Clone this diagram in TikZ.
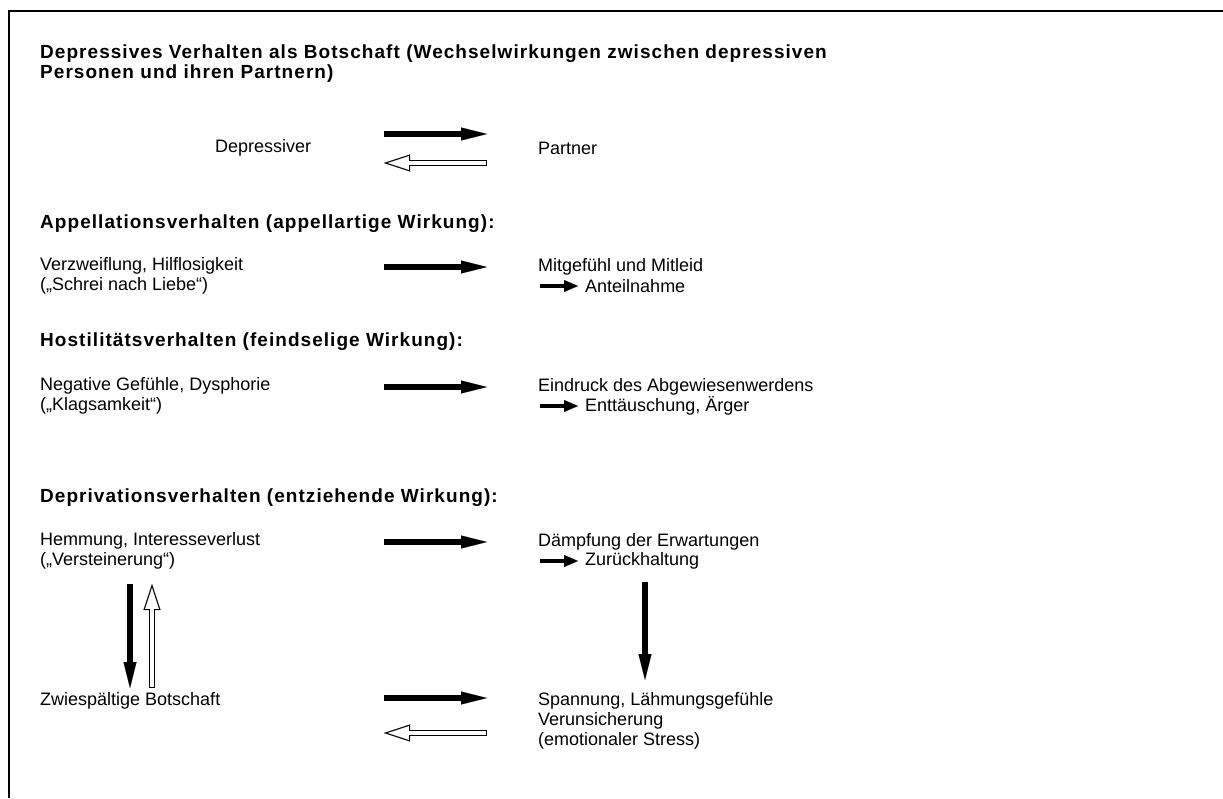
\documentclass[tikz,border=0pt]{standalone}
\usepackage{fontspec}
\setmainfont{Liberation Sans}
\newfontfamily\hdfont[LetterSpace=5.5]{Liberation Sans}
\usetikzlibrary{arrows.meta}
\tikzset{
  txt/.style={anchor=west,inner sep=0pt,align=left,font=\fontsize{18}{20}\selectfont},
  hd/.style={txt,font=\hdfont\fontsize{19}{20}\selectfont\bfseries},
  fat/.style={line width=5.5pt,-{Triangle[length=26pt,width=13pt,line width=0.1pt]}},
  hol/.style={line width=6.5pt,-{Triangle[length=26pt,width=17pt,line width=0.1pt]},
    postaction={draw=white,line width=4.1pt,shorten <=1.2pt,shorten >=3.9pt,-{Triangle[length=20.9pt,width=13.6pt,line width=0.1pt]}}},
  thin/.style={line width=4.5pt,shorten >=7pt,-{Triangle[length=14pt,width=12pt,line width=0.1pt]}},
}

\begin{document}
\begin{tikzpicture}[x=1pt,y=-1pt]
\useasboundingbox (0,0) rectangle (1223,798);
% frame (top and left only)
\draw[line width=2pt] (9,798) -- (9,11) -- (1223,11);

\node[hd] (title) at (40,63.5) {Depressives Verhalten als Botschaft (Wechselwirkungen zwischen depressiven\\Personen und ihren Partnern)};

% Depressiver <-> Partner
\node[txt] (dep) at (215,148) {Depressiver};
\node[txt] (par) at (538,148) {Partner};
\coordinate (a1) at (384,134); \coordinate (b1) at (487,134);
\coordinate (a2) at (384,163); \coordinate (b2) at (487,163);
\draw[fat] (a1) -- (b1);
\draw[hol] (b2) -- (a2);

% Appellation
\node[hd] (appH) at (40,224) {Appellationsverhalten (appellartige Wirkung):};
\node[txt] (verz) at (40,276) {Verzweiflung, Hilflosigkeit\\(„Schrei nach Liebe“)};
\node[txt] (mitg) at (538,267) {Mitgefühl und Mitleid};
\node[txt] (anteil) at (585,286) {Anteilnahme};
\coordinate (a3) at (384,267); \coordinate (b3) at (487,267);
\coordinate (c3) at (540,286);
\draw[fat] (a3) -- (b3);
\draw[thin] (c3) -- (anteil.west);

% Hostilitaet
\node[hd] (hosH) at (40,342) {Hostilitätsverhalten (feindselige Wirkung):};
\node[txt] (neg) at (40,396) {Negative Gefühle, Dysphorie\\(„Klagsamkeit“)};
\node[txt] (eind) at (538,387) {Eindruck des Abgewiesenwerdens};
\node[txt] (entt) at (585,406) {Enttäuschung, Ärger};
\coordinate (a4) at (384,387); \coordinate (b4) at (487,387);
\coordinate (c4) at (540,406);
\draw[fat] (a4) -- (b4);
\draw[thin] (c4) -- (entt.west);

% Deprivation
\node[hd] (depH) at (40,498) {Deprivationsverhalten (entziehende Wirkung):};
\node[txt] (hemm) at (40,551) {Hemmung, Interesseverlust\\(„Versteinerung“)};
\node[txt] (daem) at (538,542) {Dämpfung der Erwartungen};
\node[txt] (zur) at (585,561) {Zurückhaltung};
\coordinate (a5) at (384,542); \coordinate (b5) at (487,542);
\coordinate (c5) at (540,561);
\draw[fat] (a5) -- (b5);
\draw[thin] (c5) -- (zur.west);

% vertical arrows
\coordinate (d1) at (130,584); \coordinate (e1) at (130,688);
\coordinate (d2) at (152,584); \coordinate (e2) at (152,688);
\coordinate (d3) at (645,582); \coordinate (e3) at (645,680);
\draw[fat] (d1) -- (e1);
\draw[hol] (e2) -- (d2);
\draw[fat] (d3) -- (e3);

% Zwiespaeltige Botschaft
\node[txt] (zwie) at (40,701) {Zwiespältige Botschaft};
\node[txt] (span) at (538,721) {Spannung, Lähmungsgefühle\\Verunsicherung\\(emotionaler Stress)};
\coordinate (a6) at (384,698); \coordinate (b6) at (487,698);
\coordinate (a7) at (384,733); \coordinate (b7) at (487,733);
\draw[fat] (a6) -- (b6);
\draw[hol] (b7) -- (a7);
\end{tikzpicture}
\end{document}
